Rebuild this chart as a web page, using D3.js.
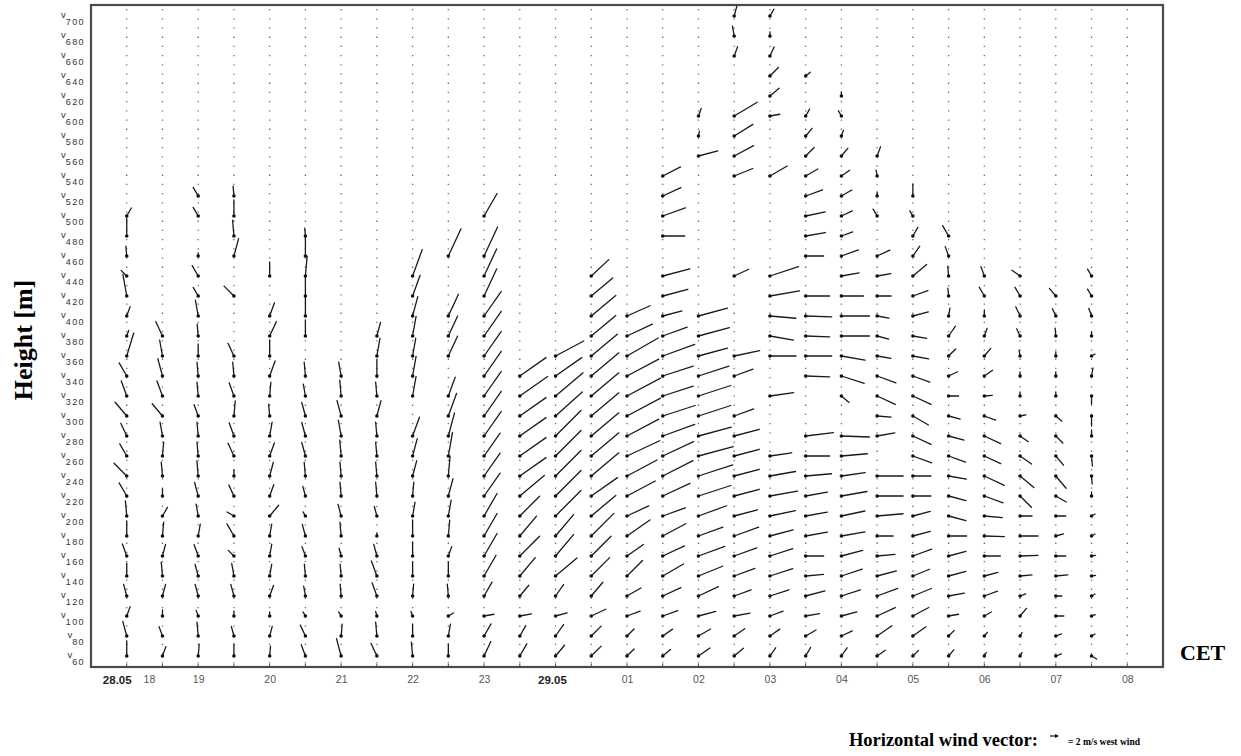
<!DOCTYPE html>
<html><head><meta charset="utf-8">
<script src="https://cdn.jsdelivr.net/npm/d3@7"></script>
<style>body{margin:0;background:#fff;} svg{display:block;}</style>
</head><body>
<svg id="chart" width="1241" height="756"></svg>
<script>
// ---------- data ----------
// profile times in hours (24 = 00 on 29.05)
const times = [18,18.5,19,19.5,20,20.5,21,21.5,22,22.5,23,23.5,24,24.5,25,25.5,26,26.5,27,27.5,28,28.5,29,29.5,30,30.5,31,31.5,32];
const heights = [60,80,100,120,140,160,180,200,220,240,260,280,300,320,340,360,380,400,420,440,460,480,500,520,540,560,580,600,620,640,660,680,700];
const tickLabels = ["28.05","18","19","20","21","22","23","29.05","01","02","03","04","05","06","07","08"];
const tickHours  = [17.86,18.31,19,20,21,22,23,23.95,25,26,27,28,29,30,31,32];
const boldTicks  = ["28.05","29.05"];
// per profile, from 60 m upward: [wind direction (deg, from), speed (m/s)] or null
const wind = [
 /*18:00*/ [[0,3.8],[345,3.8],[20,2.5],[345,3],[0,3.2],[340,3.2],[0,3.8],[355,3.8],[330,3.8],[315,4.5],[330,3.5],[335,3.5],[320,4.5],[340,4],[330,3.8],[17,6],[20,1.5],[20,2.5],[350,5.5],[315,2],[355,2.5],[0,4.5],[30,2.3]],
 /*18:30*/ [[20,2.5],[340,2.5],[0,1.5],[15,3],[355,3.5],[15,3],[5,3.5],[30,2.5],[0,1.8],[355,3.5],[5,3.5],[350,3.5],[320,4],[340,4],[345,4.5],[350,4],[335,4]],
 /*19:00*/ [[5,3],[355,3.5],[340,1.5],[345,3],[345,3],[340,3],[10,3],[350,3],[345,3.5],[355,3.8],[355,3.5],[355,3.5],[340,3],[355,3.5],[355,3.5],[0,3],[355,3],[350,4],[330,2.5],[330,3],[0,0.8],null,[330,2.5],[330,2.5]],
 /*19:30*/ [[0,3],[345,2.5],[0,1.2],[345,3],[350,3.2],[315,2],[330,3.5],[300,2],[335,3],[0,1.5],[335,3.5],[340,3.5],[5,3.8],[340,3.5],[355,3.5],[335,3.5],null,null,[315,3.5],null,[15,4.5],[355,4],[0,4],[355,2.5]],
 /*20:00*/ [[5,2.5],[15,2.5],[0,1],[20,2.8],[10,3],[10,3],[10,3],[40,3.5],[20,3],[15,3.5],[20,3.5],[10,3.5],[355,3],[5,3.5],[20,4],[0,4],[25,4],[20,3.5],null,[0,3.5]],
 /*20:30*/ [[340,3],[335,3],[330,1.2],[350,2.5],[355,3],[340,2.5],[345,3],[330,1.2],[345,2.5],[355,3.5],[345,3.5],[345,3.5],[345,3.5],[350,3],[355,3.5],null,[0,4],[0,5],[0,5],[5,5],[0,5],[355,2]],
 /*21:00*/ [[345,4.5],[5,3],[330,1.2],[355,3],[355,3],[345,2],[355,3.5],[345,3],[355,3.5],[355,3.5],[355,4],[350,4],[345,4],[355,4],[350,3.5]],
 /*21:30*/ [[335,3.5],[355,3.5],[345,1.2],[340,3.5],[340,4],[345,3],[0,0.8],[345,2.5],[355,3.5],[355,3.5],[355,3.5],[355,3.5],[15,4],[355,3.5],[0,4],[10,4.5],[15,3.5]],
 /*22:00*/ [[355,3.5],[0,3],[340,1.2],[5,3],[0,3.5],[0,3.5],[0,4],[10,3.5],[5,3.5],[15,4],[15,4.5],[20,5],null,[10,5],[10,5],[10,4.5],[10,5],[15,5],[20,5.5],[20,7]],
 /*22:30*/ [[0,3],[10,3],[60,1.5],[355,3],[0,3.5],[20,2.5],[5,4],[10,4],[15,4.5],[5,5],[10,6],[15,6],[20,6],[20,5],null,[25,5.5],[25,5.5],[25,6],null,null,[25,7.5]],
 /*23:00*/ [[25,4],[30,3.5],[80,2.5],[30,4],[30,6],[30,6.5],[30,6.5],[30,6.5],[35,7],[35,7],[35,7],[35,7.5],[35,7.5],[35,7.5],[35,7.5],[35,7.5],[35,7.5],[35,7.5],[25,7.5],[25,7.5],[25,8],null,[30,6.5]],
 /*23:30*/ [[30,3.5],[30,3],[80,3],[40,3.5],[40,6],[45,7],[40,6.5],[45,7],[50,8],[55,8],[55,8],[55,8],[55,8],[55,8.5],[55,8]],
 /*00:00*/ [[40,3.5],[35,3.5],[75,3],[35,3.5],[50,7],[40,7],[40,7],[45,9],[45,9],[45,9],[45,9],[45,9],[48,9],[50,9],[55,8],[62,8]],
 /*00:30*/ [[45,3.5],[45,3.5],[65,4],[40,4.5],[45,6.5],[45,7],[45,8],[50,8],[55,8],[50,9],[50,9],[50,9],[50,9],[50,9],[50,9],[50,8.5],[50,8],[50,8],[50,7],[47,6]],
 /*01:00*/ [[45,2.5],[45,2.5],[70,3.5],[60,4],[45,5.5],[55,5],[55,7],[65,6],[62,8],[62,8.5],[65,9],[62,9],[62,9.5],[62,9.5],[62,9],[60,9],[65,7],[66,6.3]],
 /*01:30*/ [[50,2.5],[55,3],[70,4],[65,5],[60,6],[65,6],[62,6.5],[70,6],[65,7.5],[63,8.5],[65,8.5],[70,8.5],[72,8.5],[72,8],[72,8],[70,8.5],[70,6.5],[75,5],[75,6.5],[75,7],null,[90,5.5],[70,6],[65,5],[63,5]],
 /*02:00*/ [[55,3.5],[60,3.5],[75,4.5],[65,5.5],[68,6.5],[70,7],[70,6.5],[70,7.5],[72,8.5],[72,9],[75,9],[75,8.5],[72,8.5],[72,8.5],[72,8],[75,7.5],[75,8],[75,7.5],null,null,null,null,null,null,null,[75,5],[10,1.2],[20,2]],
 /*02:30*/ [[50,3],[55,3.2],[80,4],[70,4.5],[70,5.5],[70,6],[70,6.5],[75,6],[75,6.5],[75,6.5],[75,6.5],[75,6.5],[70,5.2],null,[70,5],[78,6.5],null,null,null,[65,4],null,null,null,null,[68,5],[62,5.5],[58,5.5],[59,6.7],null,null,[20,2.5],[350,2.5],[15,2.5]],
 /*03:00*/ [[35,2.5],[55,3],[70,3.5],[72,5],[72,6],[72,6],[75,6],[78,6.5],[80,7],[80,6.5],[82,5.5],null,null,[82,6],null,[90,6.5],[100,6],[95,6.5],[80,7.5],[72,7.5],null,null,null,null,[60,5],null,null,[80,2.5],[50,3],[45,3],[25,2.5],[0,1],[30,2]],
 /*03:30*/ [[30,2.5],[60,3],[80,3.5],[75,5],[85,4.5],[90,4.5],[80,5.5],[80,5.5],[80,5.5],[85,6.5],[90,6],[83,7],null,null,[92,6],[90,6.5],[92,6],[92,6.5],[90,6],null,[90,4.5],[80,5],[78,5],[70,4.5],[60,3.5],[45,3],[40,2.5],[30,2],null,[50,1.5]],
 /*04:00*/ [[35,2.5],[65,3],[75,4],[72,5],[72,5.5],[75,5.5],[80,6],[78,6],[80,6.5],[82,6],[85,6.5],[92,7],null,[130,2.5],[108,6],[100,6],[90,7],[90,7],[90,5.5],[80,4.5],[70,4.5],[70,3],[65,3],[60,3],[55,2.5],[40,2.5],[20,1.5],[330,1.5],[0,1]],
 /*04:30*/ [[55,2.5],[55,4.5],[65,5],[70,5.5],[75,5],[85,4.5],[90,4],[85,6.5],[90,6.5],[90,6.5],null,[80,4.5],[95,3.5],[115,5],[110,5],[100,3.5],[105,3],[100,3],[90,3.5],[80,3.5],[65,3.5],null,[330,2],[0,1],[350,1.5],[20,2.5]],
 /*05:00*/ [[45,2],[55,4],[62,4.5],[68,5],[68,4.5],[70,5],[75,4.5],[75,4.5],[90,4.5],[90,4.5],[110,5],[115,5],[120,4.5],[115,5],[110,4.5],[100,4],[100,3.5],[75,4],[70,4],[50,4.5],[35,3],[30,2.5],[330,1.5],[0,3]],
 /*05:30*/ [[40,2],[45,2],[80,2.5],[80,4],[75,4.5],[75,4.5],[90,4.5],[105,4.5],[105,4.5],[100,4.5],[110,4.5],[105,4],[105,3],[90,2.5],[65,2.5],[45,2.5],[35,3],[10,2],[355,2],[355,2.5],[340,2.5],[330,3]],
 /*06:00*/ [[30,1],[40,1.2],[60,2],[70,3.5],[75,3.5],[90,4],[92,5],[95,4.5],[110,5],[115,5.5],[115,4.5],[115,4.5],[110,3],[85,2],[55,2.5],[40,2.5],[20,2],[0,1.5],[330,2.5],[340,2.5]],
 /*06:30*/ [[30,1],[30,1],[40,2.5],[70,1.5],[85,3],[88,4.5],[90,4.5],[90,3],[135,4],[130,4.5],[125,3.5],[125,2.5],[80,1.5],[0,1],[0,1],[350,1.5],[335,2],[335,2.5],[330,2.5],[305,2.5]],
 /*07:00*/ [[70,1.5],[70,1.5],[90,2],[90,1.5],[85,3],[90,2.5],[75,2],[90,2.5],[120,3],[140,4],[140,3],[135,2.5],[130,2],[0,1],[0,1],[0,1],[355,2],[335,2],[320,2.5]],
 /*07:30*/ [[120,1.5],[60,1],[70,1],[60,1],[80,1],[80,1],[60,1],[60,1],[0,1],[175,2],[175,2.5],[0,1.5],[180,2.5],[180,2],[10,2],[60,1],[0,1],[340,2],[330,2],[330,2]],
 /*08:00*/ []
];
const legendSpeed = 2;      // m/s
const legendDir = 270;      // west wind

// ---------- drawing ----------
const svg = d3.select("#chart");
const plot = {left: 91, right: 1163, top: 5, bottom: 667};
const x = d3.scaleLinear().domain([17.5, 32.5]).range([plot.left, plot.right]);
const y = d3.scaleLinear().domain([60, 700]).range([656, 16]);
const len = d3.scaleLinear().domain([0, 1]).range([0, 4]); // px per m/s

// dotted profile lines
svg.append("g").selectAll("line").data(times).join("line")
  .attr("x1", d => x(d)).attr("x2", d => x(d))
  .attr("y1", plot.top + 4).attr("y2", plot.bottom)
  .attr("stroke", "#6a6a6a").attr("stroke-width", 1.3)
  .attr("stroke-dasharray", "1.3,7.9");

// small ticks on bottom axis
svg.append("g").selectAll("line").data(times).join("line")
  .attr("x1", d => x(d)).attr("x2", d => x(d))
  .attr("y1", plot.bottom - 3).attr("y2", plot.bottom)
  .attr("stroke", "#444").attr("stroke-width", 1);

// frame
svg.append("rect")
  .attr("x", plot.left).attr("y", plot.top)
  .attr("width", plot.right - plot.left).attr("height", plot.bottom - plot.top)
  .attr("fill", "none").attr("stroke", "#4a4a4a").attr("stroke-width", 2.2);

// vectors
const vecs = [];
wind.forEach((col, i) => {
  col.forEach((v, j) => {
    if (v) vecs.push({t: times[i], h: heights[j], dir: v[0], spd: v[1]});
  });
});
const gv = svg.append("g");
gv.selectAll("line").data(vecs).join("line")
  .attr("x1", d => x(d.t)).attr("y1", d => y(d.h))
  .attr("x2", d => x(d.t) + len(d.spd) * Math.sin(d.dir * Math.PI / 180))
  .attr("y2", d => y(d.h) - len(d.spd) * Math.cos(d.dir * Math.PI / 180))
  .attr("stroke", "#1a1a1a").attr("stroke-width", 1.3).attr("stroke-linecap", "round");
gv.selectAll("circle").data(vecs).join("circle")
  .attr("cx", d => x(d.t)).attr("cy", d => y(d.h)).attr("r", 1.8)
  .attr("fill", "#111");

// x axis labels
const xAxis = d3.axisBottom(x).tickValues(tickHours)
  .tickFormat((d, i) => tickLabels[i]).tickSize(0).tickPadding(9);
const gx = svg.append("g").attr("transform", `translate(0,${plot.bottom})`).call(xAxis);
gx.select(".domain").remove();
gx.selectAll("text")
  .attr("font-family", "Liberation Sans, Arial, sans-serif")
  .attr("font-size", d => boldTicks.includes(tickLabels[tickHours.indexOf(d)]) ? 11.5 : 10.5)
  .attr("font-weight", d => boldTicks.includes(tickLabels[tickHours.indexOf(d)]) ? "bold" : "normal")
  .attr("fill", d => boldTicks.includes(tickLabels[tickHours.indexOf(d)]) ? "#222" : "#555");

// y axis labels: "v" with subscript height
const gy = svg.append("g");
const ylab = gy.selectAll("text").data(heights).join("text")
  .attr("x", 85).attr("y", d => y(d) + 2)
  .attr("text-anchor", "end")
  .attr("font-family", "Liberation Sans, Arial, sans-serif")
  .attr("fill", "#333");
ylab.append("tspan").attr("font-size", 9.5).text("v");
ylab.append("tspan").attr("font-size", 9).attr("dy", 7).attr("letter-spacing", 1.4).text(d => String(d));

// titles
svg.append("text")
  .attr("transform", "translate(32,340) rotate(-90)")
  .attr("text-anchor", "middle")
  .attr("font-family", "Liberation Serif, Times New Roman, serif")
  .attr("font-weight", "bold").attr("font-size", 26)
  .text("Height [m]");
svg.append("text")
  .attr("x", 1180).attr("y", 660)
  .attr("font-family", "Liberation Serif, Times New Roman, serif")
  .attr("font-weight", "bold").attr("font-size", 22)
  .text("CET");

// legend
svg.append("text")
  .attr("x", 1038).attr("y", 746).attr("text-anchor", "end")
  .attr("font-family", "Liberation Serif, Times New Roman, serif")
  .attr("font-weight", "bold").attr("font-size", 18.5)
  .text("Horizontal wind vector:");
const lx = 1058, ly = 736;
svg.append("line")
  .attr("x1", lx).attr("y1", ly)
  .attr("x2", lx + len(legendSpeed) * Math.sin(legendDir * Math.PI / 180))
  .attr("y2", ly - len(legendSpeed) * Math.cos(legendDir * Math.PI / 180))
  .attr("stroke", "#111").attr("stroke-width", 1.2);
svg.append("path")
  .attr("d", `M${lx+1},${ly} L${lx-3},${ly-2} L${lx-3},${ly+2} Z`)
  .attr("fill", "#111");
svg.append("text")
  .attr("x", 1068).attr("y", 745)
  .attr("font-family", "Liberation Serif, Times New Roman, serif")
  .attr("font-weight", "bold").attr("font-size", 10)
  .attr("textLength", 72).attr("lengthAdjust", "spacingAndGlyphs")
  .text("= 2 m/s west wind");
</script>
</body></html>
